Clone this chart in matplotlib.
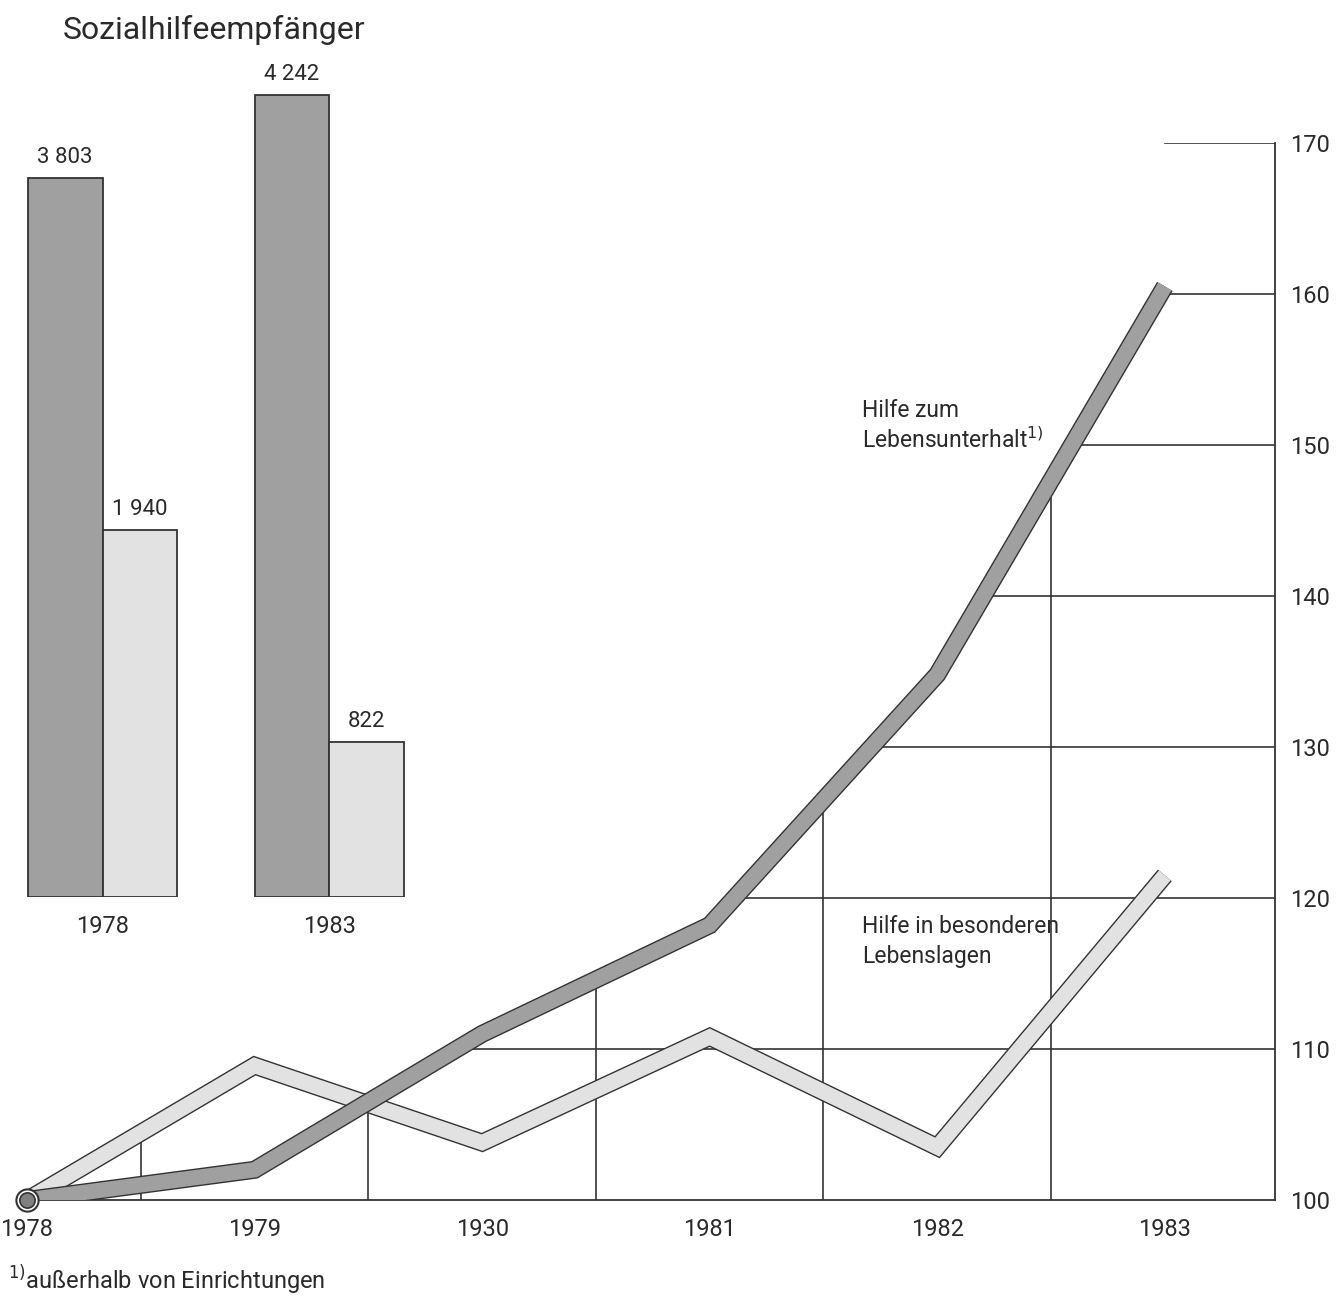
import numpy as np
import matplotlib
matplotlib.use("Agg")
import matplotlib.pyplot as plt
import matplotlib.patheffects as pe

plt.rcParams['font.family'] = ['Roboto', 'DejaVu Sans']

# line chart data (index, 1978 = 100)
years = [1978, 1979, 1980, 1981, 1982, 1983]
year_labels = ["1978", "1979", "1930", "1981", "1982", "1983"]
lebensunterhalt = [100, 102.0, 111.0, 118.2, 134.8, 160.5]
besondere_lagen = [100, 108.9, 103.8, 110.8, 103.5, 121.5]
y_ticks = [100, 110, 120, 130, 140, 150, 160, 170]

# inset bar data (thousands of recipients)
bar_years = ["1978", "1983"]
bar_dark = [3803, 4242]
bar_light = [1940, 822]
bar_dark_labels = ["3 803", "4 242"]
bar_light_labels = ["1 940", "822"]

DARK = '#a0a0a0'
LIGHT = '#e2e2e2'
EDGE = '#333333'
TXT = '#2a2a2a'

fig = plt.figure(figsize=(13.42, 12.99), dpi=100)

# main axes
ax = fig.add_axes([27/1342, 99/1299, 1248/1342, 1057/1299])
x_max = 1983.484
ax.set_xlim(1978, x_max)
ax.set_ylim(100, 170)
for s in ['top', 'left']:
    ax.spines[s].set_visible(False)
ax.spines['right'].set_color(EDGE)
ax.spines['bottom'].set_color(EDGE)
ax.spines['right'].set_linewidth(1.3)
ax.spines['bottom'].set_linewidth(1.3)
ax.patch.set_alpha(0)

ax.yaxis.tick_right()
ax.set_yticks(y_ticks)
ax.tick_params(axis='y', length=0, pad=11, labelsize=17, labelcolor=TXT)
ax.set_xticks(years)
ax.set_xticklabels(year_labels)
ax.tick_params(axis='x', length=0, pad=13, labelsize=17, labelcolor=TXT)

# horizontal grid segments: from the upper line to the right axis
for lvl in y_ticks[1:]:
    x0 = np.interp(lvl, lebensunterhalt, years)
    ax.plot([x0, x_max], [lvl, lvl], color=EDGE, lw=1.2, zorder=1)

# vertical grid segments at half years, up to the upper line
for xh in np.arange(1978.5, 1983, 1.0):
    top = max(np.interp(xh, years, lebensunterhalt), np.interp(xh, years, besondere_lagen))
    ax.plot([xh, xh], [100, top], color=EDGE, lw=1.2, zorder=1)

band = dict(lw=11, solid_joinstyle='miter', solid_capstyle='butt', zorder=3)
ax.plot(years, besondere_lagen, color=LIGHT,
        path_effects=[pe.Stroke(linewidth=13, foreground=EDGE), pe.Normal()], **band)
band['zorder'] = 4
ax.plot(years, lebensunterhalt, color=DARK,
        path_effects=[pe.Stroke(linewidth=13, foreground=EDGE), pe.Normal()], **band)

# start marker
ax.plot([1978], [100], marker='o', ms=16, mfc='white', mec=EDGE, mew=1.5, zorder=5, clip_on=False)
ax.plot([1978], [100], marker='o', ms=11, mfc='#808080', mec=EDGE, mew=1.2, zorder=6, clip_on=False)

lab_kw = dict(fontsize=16.5, color=TXT, va='center', ha='left')
ax.text(1981.67, 152.3, "Hilfe zum", **lab_kw)
ax.text(1981.67, 150.3, "Lebensunterhalt$^{1)}$", **lab_kw)
ax.text(1981.67, 118.1, "Hilfe in besonderen", **lab_kw)
ax.text(1981.67, 116.1, "Lebenslagen", **lab_kw)

# inset bar chart
bx = fig.add_axes([27/1342, 402/1299, 378/1342, 837/1299])
bx.set_xlim(-0.333, 1.333)
bx.set_ylim(0, 4427)
bx.axis('off')
pos = np.arange(len(bar_years))
w = 0.33
bd = bx.bar(pos - w/2, bar_dark, width=w, color=DARK, edgecolor=EDGE, lw=1.3)
bl = bx.bar(pos + w/2, bar_light, width=w, color=LIGHT, edgecolor=EDGE, lw=1.3)
for rect, lab in zip(bd, bar_dark_labels):
    bx.annotate(lab, (rect.get_x() + rect.get_width()/2, rect.get_height()),
                xytext=(0, 7), textcoords='offset points', ha='center', va='bottom',
                fontsize=16, color=TXT)
for rect, lab in zip(bl, bar_light_labels):
    bx.annotate(lab, (rect.get_x() + rect.get_width()/2, rect.get_height()),
                xytext=(0, 7), textcoords='offset points', ha='center', va='bottom',
                fontsize=16, color=TXT)
for p, lab in zip(pos, bar_years):
    bx.annotate(lab, (p, 0), xytext=(0, -13), textcoords='offset points',
                ha='center', va='top', fontsize=17, color=TXT)

fig.text(63/1342, 1 - 30/1299, "Sozialhilfeempfänger", fontsize=23, color=TXT,
         ha='left', va='center')
fig.text(8/1342, 1 - 1280/1299, "$^{1)}$außerhalb von Einrichtungen", fontsize=17,
         color=TXT, ha='left', va='center')

fig.savefig("out.png", dpi=100, facecolor='white')
